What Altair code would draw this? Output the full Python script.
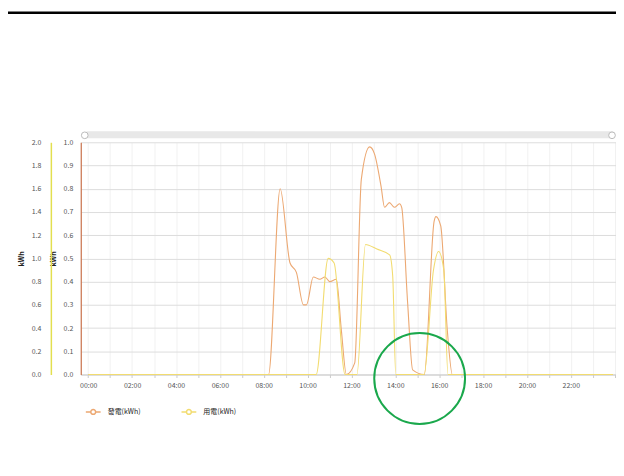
import altair as alt
import pandas as pd

# ---- data (hours since 00:00, kWh) ----
series_names = ["發電(kWh)", "用電(kWh)"]
series_colors = ["#eca872", "#f2dc70"]

orange_hours = [0, 8.22, 8.75, 9.20, 9.49, 9.81, 9.95, 10.26, 10.56, 10.79, 11.01, 11.31,
                11.54, 11.77, 12.15, 12.45, 12.83, 13.05, 13.35, 13.51, 13.73, 13.96, 14.19,
                14.29, 14.56, 14.79, 15.32, 15.77, 15.85, 16.07, 16.37, 16.60, 23.92]
orange_kwh = [0, 0, 0.80, 0.48, 0.44, 0.30, 0.30, 0.42, 0.41, 0.42, 0.40, 0.41,
              0.19, 0, 0.05, 0.84, 0.98, 0.95, 0.81, 0.72, 0.74, 0.72, 0.735,
              0.72, 0.31, 0.02, 0, 0.66, 0.68, 0.64, 0.19, 0, 0]

yellow_hours = [0, 10.39, 10.94, 11.21, 11.71, 12.25, 12.64, 13.16, 13.74, 13.88, 14.02,
                15.31, 15.74, 15.97, 16.21, 16.40, 23.92]
yellow_kwh = [0, 0, 1.0, 0.96, 0, 0, 1.12, 1.08, 1.03, 0.85, 0,
              0, 0.9, 1.06, 0.9, 0, 0]

x_tick_hours = list(range(0, 25))
inner_ticks = [round(i * 0.1, 1) for i in range(11)]
outer_ticks = [round(i * 0.2, 1) for i in range(11)]

orange_df = pd.DataFrame({"t": orange_hours, "v": orange_kwh, "series": series_names[0]})
yellow_df = pd.DataFrame({"t": yellow_hours, "v": yellow_kwh, "series": series_names[1]})
one = pd.DataFrame({"k": [0]})

W, H = 537, 233
FONT = "Noto Sans CJK TC"

x_axis = alt.Axis(
    values=x_tick_hours,
    labelExpr="datum.value % 2 == 0 && datum.value <= 22 ? (datum.value < 10 ? '0' : '') + datum.value + ':00' : ''",
    grid=True, gridColor="#f1f1f1", domainColor="#cccccc", tickColor="#cccccc", tickSize=3,
    labelFontSize=7, labelColor="#555555", labelPadding=4, title=None, labelFont=FONT,
)
x_enc = alt.X("t:Q", scale=alt.Scale(domain=[-0.34, 24.06], nice=False, zero=False), axis=x_axis)

color_enc = alt.Color(
    "series:N",
    scale=alt.Scale(domain=series_names, range=series_colors),
    legend=alt.Legend(
        title=None, orient="none", legendX=4, legendY=262, direction="horizontal",
        symbolType="M-1,0L-0.33,0M0.33,0L1,0M0.33,0A0.33,0.33 0 1 1 -0.33,0A0.33,0.33 0 1 1 0.33,0",
        symbolSize=220, symbolStrokeWidth=1.5, symbolFillColor="white",
        labelFontSize=7, labelFont=FONT, labelColor="#222222", columnPadding=38, labelOffset=6,
    ),
)

orange_line = alt.Chart(orange_df).mark_line(
    interpolate="monotone", strokeWidth=1.1
).encode(
    x=x_enc,
    y=alt.Y("v:Q", scale=alt.Scale(domain=[0, 1], nice=False),
            axis=alt.Axis(orient="left", offset=0, values=inner_ticks, format=".1f",
                          grid=True, gridColor="#dddddd", ticks=False,
                          domainColor="#c8714a", domainWidth=1.2,
                          labelFontSize=7, labelColor="#555555", labelPadding=8, labelFont=FONT,
                          title="kWh", titleFontSize=7, titleFont=FONT, titlePadding=7,
                          titleColor="#222222")),
    color=color_enc,
)

yellow_line = alt.Chart(yellow_df).mark_line(
    interpolate="monotone", strokeWidth=1.1
).encode(
    x=x_enc,
    y=alt.Y("v:Q", scale=alt.Scale(domain=[0, 2], nice=False),
            axis=alt.Axis(orient="left", offset=30, values=outer_ticks, format=".1f",
                          grid=False, ticks=False,
                          domainColor="#e3df4f", domainWidth=1.5,
                          labelFontSize=7, labelColor="#555555", labelPadding=10, labelFont=FONT,
                          title="kWh", titleFontSize=7, titleFont=FONT, titlePadding=7,
                          titleColor="#222222")),
    color=color_enc,
)

# decorations (slider bar, top rule, green annotation circle)
slider = alt.Chart(one).mark_rect(color="#e8e8e8", cornerRadius=3).encode(
    x=alt.value(4), x2=alt.value(536), y=alt.value(-11), y2=alt.value(-4))
handle_l = alt.Chart(one).mark_point(shape="circle", filled=True, fill="white",
                                     stroke="#bbbbbb", strokeWidth=1, size=45, opacity=1).encode(
    x=alt.value(4), y=alt.value(-7))
handle_r = alt.Chart(one).mark_point(shape="circle", filled=True, fill="white",
                                     stroke="#bbbbbb", strokeWidth=1, size=45, opacity=1).encode(
    x=alt.value(533), y=alt.value(-7))
top_rule = alt.Chart(one).mark_rule(color="black", strokeWidth=2.5).encode(
    x=alt.value(-73), x2=alt.value(537), y=alt.value(-130))
ring = alt.Chart(one).mark_point(shape="circle", filled=False, stroke="#1aa84c",
                                 strokeWidth=2, size=8300, opacity=1).encode(
    x=alt.value(340), y=alt.value(237))

chart = alt.layer(
    orange_line, yellow_line, slider, handle_l, handle_r, top_rule, ring
).resolve_scale(y="independent").properties(
    width=W, height=H,
    autosize=alt.AutoSizeParams(type="none"),
    padding={"left": 73, "top": 134, "right": 0, "bottom": 70},
    background="white",
).configure_view(stroke=None)

chart.save("out.html", embed_options={"renderer": "svg", "actions": False})
